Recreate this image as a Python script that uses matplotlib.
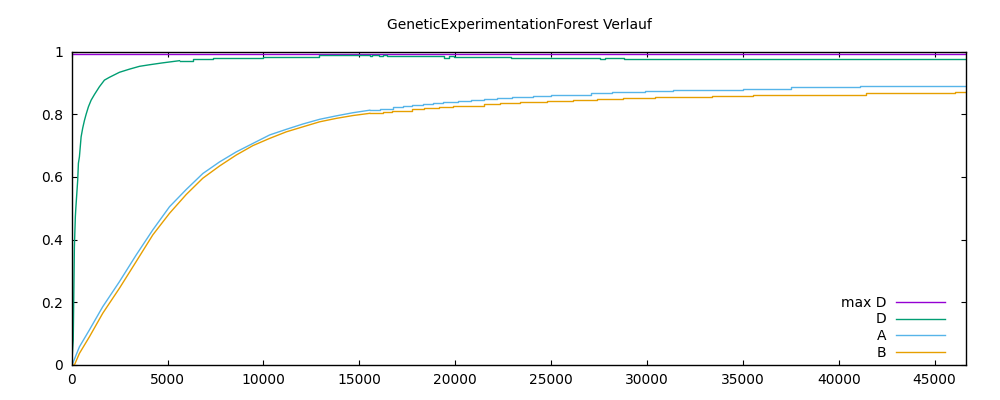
import numpy as np
import matplotlib
matplotlib.use("Agg")
import matplotlib.pyplot as plt

# Werte (Generation, Wert)
# steiler Anstieg: feine Stufen -> als Linie; danach sichtbare Stufen
x_end = 46650

max_d_x = [0, x_end]
max_d_y = [0.993, 0.993]

d_rise_x = [0, 80, 140, 190, 215, 313, 350, 402, 491, 574, 663, 752, 872,
            1013, 1185, 1446, 1707, 1968, 2490, 3012, 3534, 4056, 4735, 5622]
d_rise_y = [0.0, 0.08, 0.377, 0.473, 0.50, 0.59, 0.644, 0.664, 0.728, 0.756,
            0.78, 0.80, 0.824, 0.845, 0.863, 0.888, 0.909, 0.918, 0.934,
            0.944, 0.953, 0.958, 0.964, 0.971]
d_step_x = [5622, 6300, 7344, 8493, 9955, 12893, 15540, 15650, 16010, 16220,
            16430, 19400, 19670, 19930, 22900, 27550, 27810, 28800, x_end]
d_step_y = [0.971, 0.975, 0.978, 0.981, 0.984, 0.989, 0.9856, 0.989, 0.9856,
            0.989, 0.9845, 0.981, 0.9845, 0.9825, 0.978, 0.975, 0.978, 0.975,
            0.975]

a_rise_x = [0, 52, 402, 924, 1618, 2490, 3362, 4228, 5100, 5972, 6838, 7710,
            8582, 9448, 10320, 11192, 12058, 12930, 13802, 14668, 15540]
a_rise_y = [0.0, 0.005, 0.058, 0.112, 0.186, 0.266, 0.351, 0.431, 0.505,
            0.560, 0.611, 0.648, 0.680, 0.707, 0.734, 0.752, 0.769, 0.784,
            0.795, 0.805, 0.813]
a_step_x = [15540, 16062, 16756, 17263, 17733, 18307, 18829, 19351, 20134,
            20812, 21491, 22169, 22953, 24049, 24988, 25928, 27076, 28172,
            29895, 31357, 33027, 35011, 37516, 41118, x_end]
a_step_y = [0.813, 0.816, 0.822, 0.825, 0.829, 0.832, 0.835, 0.838, 0.841,
            0.844, 0.848, 0.851, 0.854, 0.857, 0.860, 0.863, 0.867, 0.870,
            0.873, 0.876, 0.879, 0.882, 0.886, 0.889, 0.889]

b_rise_x = [0, 141, 402, 924, 1618, 2490, 3362, 4228, 5100, 5972, 6838, 7710,
            8582, 9448, 10320, 11192, 12058, 12930, 13802, 14668, 15540]
b_rise_y = [0.0, 0.0, 0.037, 0.090, 0.165, 0.245, 0.330, 0.415, 0.484, 0.544,
            0.596, 0.635, 0.670, 0.700, 0.723, 0.744, 0.760, 0.776, 0.787,
            0.796, 0.803]
b_step_x = [15540, 16219, 16689, 17159, 17733, 18359, 19142, 19872, 20603,
            21491, 22326, 23370, 24779, 26136, 27389, 28746, 30416, 33391,
            35532, 38037, 41430, 46076, x_end]
b_step_y = [0.803, 0.806, 0.809, 0.812, 0.816, 0.819, 0.822, 0.825, 0.828,
            0.832, 0.835, 0.838, 0.841, 0.844, 0.848, 0.851, 0.854, 0.857,
            0.860, 0.863, 0.867, 0.870, 0.870]

x_ticks = [0, 5000, 10000, 15000, 20000, 25000, 30000, 35000, 40000, 45000]
y_ticks = [0, 0.2, 0.4, 0.6, 0.8, 1]
y_tick_labels = ["0", "0.2", "0.4", "0.6", "0.8", "1"]

fig = plt.figure(figsize=(10, 4), dpi=100)
ax = fig.add_axes([0.0717, 0.0875, 0.8946, 0.7835])

lw = 1.0
series = [
    ("max D", "#9400D3", (max_d_x, max_d_y), None),
    ("D", "#009E73", (d_step_x, d_step_y), (d_rise_x, d_rise_y)),
    ("A", "#56B4E9", (a_step_x, a_step_y), (a_rise_x, a_rise_y)),
    ("B", "#E69F00", (b_step_x, b_step_y), (b_rise_x, b_rise_y)),
]
for name, col, steps, rise in series:
    ax.plot(steps[0], steps[1], drawstyle="steps-post", color=col, lw=lw, label=name)
    if rise is not None:
        ax.plot(rise[0], rise[1], color=col, lw=lw)

ax.set_xlim(0, x_end)
ax.set_ylim(0, 1)
ax.set_xticks(x_ticks)
ax.set_xticklabels([str(t) for t in x_ticks])
ax.set_yticks(y_ticks)
ax.set_yticklabels(y_tick_labels)
ax.tick_params(direction="in", length=3.5, width=0.8, top=True, right=True,
               labelsize=10, colors="black", pad=6)
for sp in ax.spines.values():
    sp.set_linewidth(1.0)

ax.set_title("GeneticExperimentationForest Verlauf", fontsize=10, pad=16)

leg = ax.legend(loc="lower right", bbox_to_anchor=(0.945, 0.1),
                bbox_transform=fig.transFigure, frameon=False, markerfirst=False,
                fontsize=10, handlelength=3.5, handletextpad=0.7,
                labelspacing=0.2, borderpad=0, borderaxespad=0)
# rechtsbündige Beschriftung
leg._legend_box.align = "right"

fig.savefig("out.png", dpi=100)
